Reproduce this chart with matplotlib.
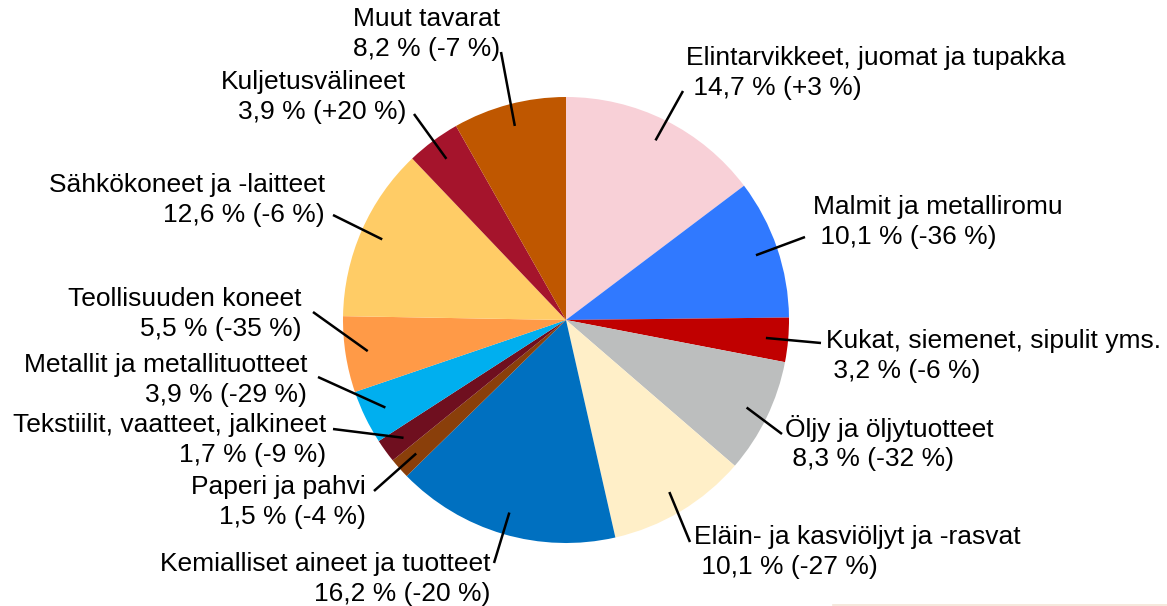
import numpy as np
import matplotlib
matplotlib.use('Agg')
import matplotlib.pyplot as plt
from matplotlib.lines import Line2D

plt.rcParams['font.family'] = ['Liberation Sans', 'DejaVu Sans']

# data, clockwise from 12 o'clock
names = ['Elintarvikkeet, juomat ja tupakka', 'Malmit ja metalliromu',
         'Kukat, siemenet, sipulit yms.', 'Öljy ja öljytuotteet',
         'Eläin- ja kasviöljyt ja -rasvat', 'Kemialliset aineet ja tuotteet',
         'Paperi ja pahvi', 'Tekstiilit, vaatteet, jalkineet',
         'Metallit ja metallituotteet', 'Teollisuuden koneet',
         'Sähkökoneet ja -laitteet', 'Kuljetusvälineet', 'Muut tavarat']
shares = [14.7, 10.1, 3.2, 8.3, 10.1, 16.2, 1.5, 1.7, 3.9, 5.5, 12.6, 3.9, 8.2]
changes = [3, -36, -6, -32, -27, -20, -4, -9, -29, -35, -6, 20, -7]

colors = ['#F8D0D7', '#3079FF', '#C00000', '#BCBEBE', '#FFEFC8', '#0070C0',
          '#8A3F0A', '#6F0F1F', '#00AFEF', '#FF9A47', '#FFCC66', '#A5142C',
          '#BF5700']

# label layout in pixels: text x, block centre y, alignment, leader end
label_pos = [(686, 73, 'left'), (813, 222, 'left'), (826, 356, 'left'),
             (785, 443, 'left'), (694, 552, 'left'), (490, 579, 'right'),
             (366, 502, 'right'), (326, 440, 'right'), (307, 380, 'right'),
             (302, 314, 'right'), (325, 200, 'right'), (406, 97, 'right'),
             (500, 34, 'right')]
leader_end = [(683, 91), (805, 237), (821, 343), (782, 434), (690, 542),
              (494, 563), (374, 491), (333, 429), (318, 377), (313, 312),
              (333, 215), (414, 114), (501, 52)]


def fmt(v):
    return f'{v:.1f}'.replace('.', ',')


def fmt_change(c):
    return f'+{c}' if c > 0 else f'{c}'


fig = plt.figure(figsize=(11.67, 6.06), dpi=100)
ax = fig.add_axes([0, 0, 1, 1])

cx, cy, r = 566, 320, 223
wedges, _ = ax.pie(shares, colors=colors, startangle=-90, counterclock=True,
                   center=(cx, cy), radius=r,
                   wedgeprops=dict(linewidth=0))

ax.set_xlim(0, 1167)
ax.set_ylim(606, 0)
ax.set_aspect('equal', adjustable='box')
ax.axis('off')

for i, w in enumerate(wedges):
    mid = np.deg2rad((w.theta1 + w.theta2) / 2)
    sx = cx + 0.9 * r * np.cos(mid)
    sy = cy + 0.9 * r * np.sin(mid)
    ex, ey = leader_end[i]
    ax.plot([sx, ex], [sy, ey], color='black', lw=1.8, solid_capstyle='butt')

    tx, ty, ha = label_pos[i]
    line2 = f'{fmt(shares[i])} % ({fmt_change(changes[i])} %)'
    if ha == 'left':
        line2 = ' ' + line2
    ax.text(tx, ty, f'{names[i]}\n{line2}', ha=ha, va='center',
            multialignment=ha, fontsize=19, linespacing=1.27, color='black')

fig.add_artist(Line2D([833 / 1167, 1], [1.5 / 606, 1.5 / 606],
                      color='#F3E4D6', lw=1.2))

fig.savefig('out.png', dpi=100)
